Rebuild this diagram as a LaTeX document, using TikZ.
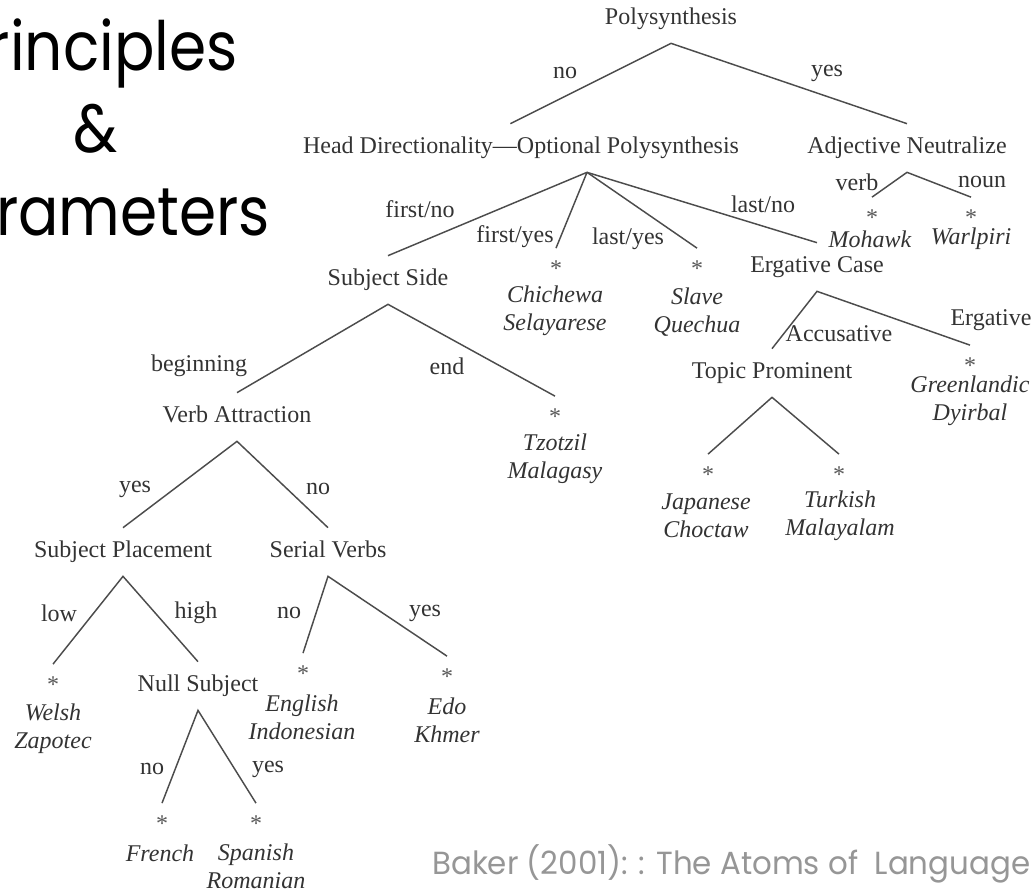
\documentclass[tikz,border=0pt]{standalone}
\usepackage{fontspec}
\setmainfont{Liberation Serif}
\newfontfamily\titlefont[FakeStretch=0.88]{Poppins}
\newfontfamily\citefont[FakeStretch=0.965]{Poppins}
\definecolor{citegray}{RGB}{150,150,150}
\newcommand{\treefont}{\fontsize{18pt}{21pt}\selectfont}
\newcommand{\leafstar}{\raisebox{-0.5em}[0.15em][0.15em]{*}}
\tikzset{
cat/.style={
  font=\treefont,
  text=black!80,
  text height=12.6pt,
  text depth=4.5pt,
  inner xsep=0pt,
  inner ysep=9.5pt
  },
lbl/.style={font=\treefont, text=black!80, inner sep=0pt},
lang/.style={font=\treefont\itshape, text=black!80, align=center, inner sep=0pt},
leaf/.style={font=\treefont, text=black!65, inner xsep=0pt, inner ysep=9pt},
line/.style={draw=black!70, line width=1.1pt},
title/.style={font=\titlefont\fontsize{51pt}{51pt}\selectfont, anchor=base, inner sep=0pt},
cite/.style={font=\citefont\fontsize{24pt}{24pt}\selectfont, text=citegray, anchor=base west, inner sep=0pt}
}

\begin{document}
\begin{tikzpicture}[x=0.75pt,y=0.75pt,yscale=-1,xscale=1]
\useasboundingbox (0,0) rectangle (1034,892);
\clip (0,0) rectangle (1034,892);

% slide title, cut at the left edge
\node[title] (ttl1) at (95.5,70) {Principles};
\node[title] (ttl2) at (95.5,152) {\&};
\node[title] (ttl3) at (95.5,235) {Parameters};

% parameters
\node[cat] (poly) at (671,19) {Polysynthesis};
\node[cat] (head) at (521,148) {Head Directionality---Optional Polysynthesis};
\node[cat] (adj) at (907,148) {Adjective Neutralize};
\node[cat] (subj) at (388,280) {Subject Side};
\node[cat] (erg) at (817,267) {Ergative Case};
\node[cat] (verb) at (237,417) {Verb Attraction};
\node[cat] (topic) at (772,373) {Topic Prominent};
\node[cat] (splace) at (123,552) {Subject Placement};
\node[cat] (serial) at (328,552) {Serial Verbs};
\node[cat] (null) at (198,686) {Null Subject};
\coordinate (optfork) at ([xshift=49.5pt]head.south);

% languages
\node[leaf] (chi) at (556,264) {\leafstar};
\node[lang] (chi-n) at (555,311) {Chichewa\\Selayarese};
\node[leaf] (slave) at (697,264) {\leafstar};
\node[lang] (slave-n) at (697,312) {Slave\\Quechua};
\node[leaf] (mohawk) at (872,213) {\leafstar};
\node[lang] (mohawk-n) at (870,239) {Mohawk};
\node[leaf] (warl) at (971,213) {\leafstar};
\node[lang] (warl-n) at (971,239) {Warlpiri};
\node[leaf] (tzotzil) at (555,412) {\leafstar};
\node[lang] (tzotzil-n) at (555,459) {Tzotzil\\Malagasy};
\node[leaf] (green) at (970,361) {\leafstar};
\node[lang] (green-n) at (970,401) {Greenlandic\\Dyirbal};
\node[leaf] (japan) at (708,470) {\leafstar};
\node[lang] (japan-n) at (706,516) {Japanese\\Choctaw};
\node[leaf] (turk) at (839,470) {\leafstar};
\node[lang] (turk-n) at (840,516) {Turkish\\Malayalam};
\node[leaf] (welsh) at (53,680) {\leafstar};
\node[lang] (welsh-n) at (53,729) {Welsh\\Zapotec};
\node[leaf] (english) at (303,669) {\leafstar};
\node[lang] (english-n) at (302,717) {English\\Indonesian};
\node[leaf] (edo) at (447,672) {\leafstar};
\node[lang] (edo-n) at (447,720) {Edo\\Khmer};
\node[leaf] (french) at (162,819) {\leafstar};
\node[lang] (french-n) at (160,853) {French};
\node[leaf] (spanish) at (256,819) {\leafstar};
\node[lang] (spanish-n) at (256,866) {Spanish\\Romanian};

% branches
\draw[line] ([xshift=-8pt]head.north) -- (poly.south) -- (adj.north);
\draw[line] (optfork) -- (subj.north);
\draw[line] (optfork) -- (chi.north);
\draw[line] (optfork) -- (slave.north);
\draw[line] (optfork) -- (erg.north);
\draw[line] (mohawk.north) -- (adj.south) -- (warl.north);
\draw[line] (verb.north) -- (subj.south) -- (tzotzil.north);
\draw[line] (topic.north) -- (erg.south) -- (green.north);
\draw[line] (splace.north) -- (verb.south) -- (serial.north);
\draw[line] (japan.north) -- (topic.south) -- (turk.north);
\draw[line] (welsh.north) -- (splace.south) -- (null.north);
\draw[line] (english.north) -- (serial.south) -- (edo.north);
\draw[line] (french.north) -- (null.south) -- (spanish.north);

% values
\node[lbl] (v-no) at (565,73) {no};
\node[lbl] (v-yes) at (827,73) {yes};
\node[lbl] (v-firstno) at (420,209) {first/no};
\node[lbl] (v-firstyes) at (515,237) {first/yes};
\node[lbl] (v-lastyes) at (628,239) {last/yes};
\node[lbl] (v-lastno) at (763,204) {last/no};
\node[lbl] (v-verb) at (857,182) {verb};
\node[lbl] (v-noun) at (982,182) {noun};
\node[lbl] (v-begin) at (199,366) {beginning};
\node[lbl] (v-end) at (447,366) {end};
\node[lbl] (v-acc) at (839,334) {Accusative};
\node[lbl] (v-erg) at (991,320) {Ergative};
\node[lbl] (v-vayes) at (135,489) {yes};
\node[lbl] (v-vano) at (318,489) {no};
\node[lbl] (v-low) at (59,613) {low};
\node[lbl] (v-high) at (196,613) {high};
\node[lbl] (v-svno) at (289,613) {no};
\node[lbl] (v-svyes) at (425,613) {yes};
\node[lbl] (v-nsno) at (152,769) {no};
\node[lbl] (v-nsyes) at (268,769) {yes};

% source
\node[cite] (cite) at (432,874) {Baker (2001): : The Atoms of\ \ Language};

\end{tikzpicture}
\end{document}
